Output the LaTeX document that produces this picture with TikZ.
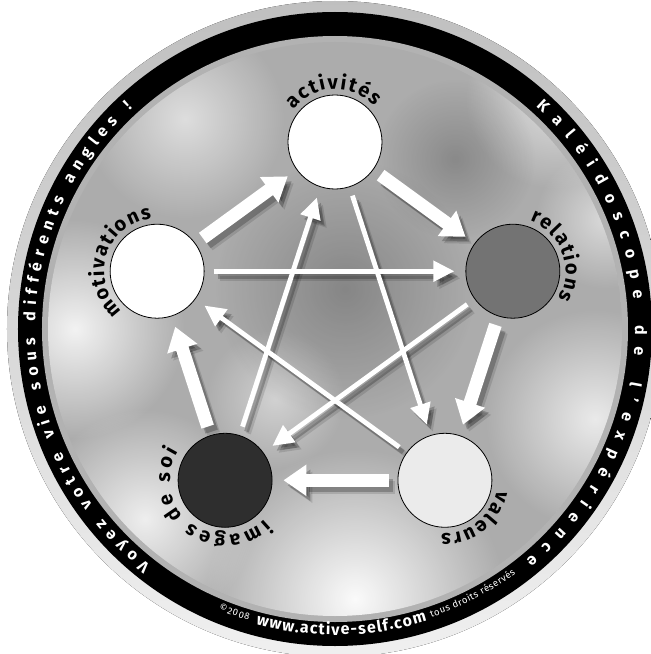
\documentclass[tikz,border=0pt]{standalone}
\usepackage{fontspec}
\setmainfont{Fira Sans}
\usetikzlibrary{arrows.meta,decorations.text,calc,fadings}

\tikzfading[name=blobfade, inner color=transparent!0, outer color=transparent!100]

\tikzset{
  concept/.style={circle, draw=black, line width=0.8pt, minimum size=94pt, inner sep=0pt},
  bigarrow/.style={white, line width=13pt, -{Triangle[width=30pt,length=23pt]}, shorten <=9pt, shorten >=11pt},
  thinarrow/.style={white, line width=4.8pt, -{Triangle[width=20pt,length=21pt]}, shorten <=9pt, shorten >=11pt},
  castshadow/.style={black, opacity=0.22, transform canvas={shift={(4pt,-5pt)}}},
  softshadow/.style={black, opacity=0.12, transform canvas={shift={(6pt,-7pt)}}},
  cloud/.style={path fading=blobfade, fill opacity=#1},
  curvelabel/.style={decorate, decoration={text along path, text align={fit to path},
      text={|\fontsize{20}{20}\selectfont\bfseries|#1}}},
  rimlabel/.style={decorate, decoration={text along path, text align={fit to path}, text color=white,
      text={|\fontsize{16}{16}\selectfont\bfseries|#1}}},
  smallrim/.style={decorate, decoration={text along path, text align={fit to path}, text color=white,
      text={|\fontsize{9.5}{9.5}\selectfont|#1}}},
}

\begin{document}
\begin{tikzpicture}[x=1pt, y=1pt]
\useasboundingbox (-335,-325) rectangle (316,329);

% the disc: silver rim, black band, grey ring
\fill[top color=gray!50, bottom color=gray!12] (0,0) circle[radius=328pt];
\fill[black] (0,0) circle[radius=317pt];
\fill[gray!60] (0,0) circle[radius=293pt];

% cloudy inside
\begin{scope}
  \clip (0,0) circle[radius=287pt];
  \fill[gray!65] (0,0) circle[radius=287pt];
  \fill[white, cloud=0.85] (-260,0) circle[radius=110pt];
  \fill[white, cloud=0.6] (-150,210) circle[radius=100pt];
  \fill[white, cloud=0.95] (20,-270) circle[radius=150pt];
  \fill[white, cloud=0.8] (-190,-190) circle[radius=110pt];
  \fill[white, cloud=0.75] (260,-90) circle[radius=110pt];
  \fill[white, cloud=0.6] (220,230) circle[radius=90pt];
  \fill[white, cloud=0.45] (-60,-70) circle[radius=70pt];
  \fill[white, cloud=0.55] (270,110) circle[radius=70pt];
  \fill[black, cloud=0.22] (10,40) circle[radius=130pt];
  \fill[black, cloud=0.2] (120,170) circle[radius=80pt];
\end{scope}

% the five circles
\node[concept, fill=white]    (act) at (90:187pt)  {};
\node[concept, fill=white]    (mot) at (162:187pt) {};
\node[concept, fill=black!55] (rel) at (18:187pt)  {};
\node[concept, fill=black!8]  (val) at (306:187pt) {};
\node[concept, fill=black!82] (img) at (234:187pt) {};

% shadows of the arrows
\foreach \a/\b in {mot/act, act/rel, rel/val, val/img, img/mot} {
  \draw[bigarrow, softshadow] (\a) -- (\b);
  \draw[bigarrow, castshadow] (\a) -- (\b);
}
\foreach \a/\b in {mot/rel, act/val, rel/img, val/mot, img/act} {
  \draw[thinarrow, softshadow] (\a) -- (\b);
  \draw[thinarrow, castshadow] (\a) -- (\b);
}

% outer round and inner star
\foreach \a/\b in {mot/act, act/rel, rel/val, val/img, img/mot}
  \draw[bigarrow] (\a) -- (\b);
\foreach \a/\b in {mot/rel, act/val, rel/img, val/mot, img/act}
  \draw[thinarrow] (\a) -- (\b);

% labels round the circles
\path[curvelabel=activités] ($(act)+(142:53pt)$) arc[start angle=142, end angle=42, radius=53pt];
\path[curvelabel=motivations] ($(mot)+(229:53pt)$) arc[start angle=229, end angle=96, radius=53pt];
\path[curvelabel=relations] ($(rel)+(71:53pt)$) arc[start angle=71, end angle=-31, radius=53pt];
\path[curvelabel=valeurs] ($(val)+(-11:53pt)$) arc[start angle=-11, end angle=-94, radius=53pt];
\path[curvelabel={images de soi}] ($(img)+(-45:55pt)$) arc[start angle=-45, end angle=-212, radius=55pt];

% texts in the black band
\path[rimlabel={Voyez votre vie sous différents angles !}] (232:300pt) arc[start angle=232, end angle=132.5, radius=300pt];
\path[rimlabel={Kaléidoscope de l'expérience}] (48:300pt) arc[start angle=48, end angle=-50.5, radius=300pt];
\path[smallrim={©2008}] (-112.5:304pt) arc[start angle=-112.5, end angle=-106.5, radius=304pt];
\path[rimlabel={www.active-self.com}] (-105:306pt) arc[start angle=-105, end angle=-72.5, radius=306pt];
\path[smallrim={tous droits réservés}] (-71.5:304pt) arc[start angle=-71.5, end angle=-53.5, radius=304pt];
\end{tikzpicture}
\end{document}
